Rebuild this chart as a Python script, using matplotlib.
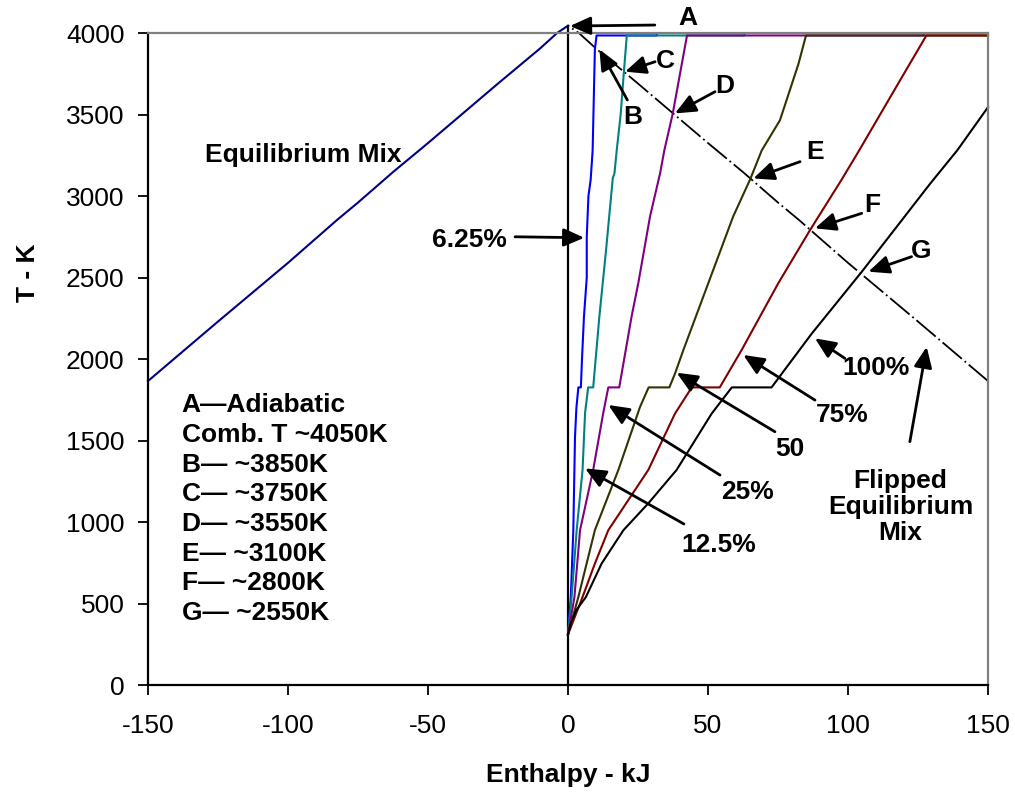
import matplotlib
matplotlib.use("Agg")
import matplotlib.pyplot as plt

plt.rcParams['font.family'] = ['Liberation Sans', 'DejaVu Sans']
plt.rcParams['axes.unicode_minus'] = False

# Gleichgewichtsgemisch (Enthalpie kJ, Temperatur K)
eq_h = [-150, -125, -100, -82.5, -75, -62.5, -50, -25, -10, -3.9, 0]
eq_T = [1865, 2230, 2590, 2853, 2960, 3147, 3325, 3690, 3905, 4000, 4045]

# adiabatische Linie bei h = 0
adiab_h = [0, 0]
adiab_T = [0, 4045]

# Kurven fuer verschiedene Anteile
h_625 = [0, 1.0, 1.9, 2.5, 3.0, 3.7, 4.6, 5.0, 5.7, 6.7, 6.7, 7.3, 8.1, 8.8, 9.6, 10.2, 31.7, 31.7]
T_625 = [310, 540, 950, 1520, 1700, 1826, 1826, 2000, 2260, 2500, 2750, 3000, 3100, 3280, 3900, 3985, 3985, 4000]

h_125 = [0, 1.3, 3.1, 5.2, 6.1, 7.2, 9.0, 11.2, 13.6, 16.0, 16.6, 17.4, 18.8, 20.0, 21.0, 63.0, 63.0]
T_125 = [310, 540, 950, 1320, 1670, 1826, 1826, 2260, 2670, 3110, 3140, 3280, 3500, 3770, 3985, 3985, 4000]

h_25 = [0, 2.3, 4.3, 9.0, 12.6, 14.4, 18.3, 22.7, 25.1, 29.3, 32.9, 34.4, 37.4, 42.5, 127, 127]
T_25 = [310, 540, 950, 1320, 1670, 1826, 1826, 2260, 2465, 2875, 3140, 3280, 3505, 3985, 3985, 4000]

h_50 = [0, 3.7, 9.6, 18.0, 25.7, 28.8, 36.2, 38.2, 41.2, 50.1, 59.0, 65.0, 69.2, 75.7, 82.3, 85.0, 150]
T_50 = [310, 540, 950, 1320, 1705, 1826, 1826, 1910, 2055, 2465, 2875, 3100, 3280, 3465, 3810, 3985, 3985]

h_75 = [0, 5.2, 9.6, 14.4, 28.7, 38.2, 44.2, 54.2, 62.0, 75.1, 86.4, 97.7, 104.0, 118.6, 128.0, 150]
T_75 = [310, 540, 745, 950, 1320, 1665, 1826, 1826, 2055, 2465, 2790, 3100, 3280, 3710, 3985, 3985]

h_100 = [0, 1.0, 3.0, 6.4, 12.0, 19.8, 28.7, 38.8, 51.3, 58.5, 72.7, 87.0, 104.9, 129.3, 139.0, 150]
T_100 = [310, 380, 460, 540, 745, 950, 1115, 1320, 1665, 1826, 1826, 2155, 2535, 3075, 3280, 3545]

kurven = [
    (h_625, T_625, '#0000ff'),
    (h_125, T_125, '#008080'),
    (h_25, T_25, '#800080'),
    (h_50, T_50, '#333300'),
    (h_75, T_75, '#800000'),
    (h_100, T_100, '#000000'),
]

fig = plt.figure(figsize=(10.15, 7.96), dpi=100)
ax = fig.add_axes([0.1458, 0.1394, 0.8276, 0.8191])

ax.plot(eq_h, eq_T, color='#000080', lw=1.5, clip_on=False)
# gespiegeltes Gleichgewicht
ax.plot([-h for h in eq_h], eq_T, color='black', lw=1.3,
        linestyle=(0, (14, 2, 1, 2)), clip_on=False)
ax.plot(adiab_h, adiab_T, color='black', lw=1.6, clip_on=False)

for h, T, c in kurven:
    ax.plot(h, T, color=c, lw=1.5, clip_on=False)

ax.set_xlim(-150, 150)
ax.set_ylim(0, 4000)
ax.set_xticks(range(-150, 151, 50))
ax.set_yticks(range(0, 4001, 500))

for s in ['left', 'bottom']:
    ax.spines[s].set_color('black')
    ax.spines[s].set_linewidth(1.6)
for s in ['top', 'right']:
    ax.spines[s].set_color('#808080')
    ax.spines[s].set_linewidth(1.6)

ax.tick_params(axis='both', direction='out', length=7, width=1.3, labelsize=19)
ax.tick_params(axis='x', pad=14)
ax.tick_params(axis='y', pad=10)

ax.set_xlabel('Enthalpy - kJ', fontsize=19, fontweight='bold', labelpad=18)
ax.set_ylabel('T - K', fontsize=19, fontweight='bold')
ax.yaxis.set_label_coords(-0.128, 0.633)

fs = 19
pfeil = dict(arrowstyle='-|>,head_length=0.5,head_width=0.22', color='black',
             lw=2, mutation_scale=25, shrinkA=0, shrinkB=0)

def pfeil_zeichnen(tail, head):
    ax.annotate('', xy=head, xytext=tail, arrowprops=pfeil, annotation_clip=False)

def label(x, y, s, **kw):
    ax.text(x, y, s, fontsize=fs, fontweight='bold', ha='center', va='center',
            clip_on=False, **kw)

# Buchstaben A-G
pfeil_zeichnen((31, 4049), (0.7, 4043))
label(42.9, 4092, 'A')
pfeil_zeichnen((21.2, 3589), (11.2, 3900))
label(23.2, 3485, 'B')
pfeil_zeichnen((31.1, 3824), (20.4, 3763))
label(34.6, 3828, 'C')
pfeil_zeichnen((52.5, 3640), (38.2, 3507))
label(56.1, 3675, 'D')
pfeil_zeichnen((82.9, 3211), (66.2, 3108))
label(88.2, 3270, 'E')
pfeil_zeichnen((104.9, 2894), (88.2, 2802))
label(108.6, 2945, 'F')
pfeil_zeichnen((122.7, 2628), (107.3, 2536))
label(126, 2663, 'G')

# Prozentangaben
pfeil_zeichnen((-18.9, 2750), (5.8, 2744))
label(-35.2, 2730, '6.25%')
pfeil_zeichnen((41.4, 988), (6.1, 1329))
label(53.8, 859, '12.5%')
pfeil_zeichnen((54.3, 1288), (14.4, 1718))
label(64.1, 1184, '25%')
pfeil_zeichnen((73.9, 1554), (38.8, 1916))
label(79.3, 1448, '50')
pfeil_zeichnen((88.2, 1748), (62.6, 2025))
label(98, 1656, '75%')
pfeil_zeichnen((98.9, 2004), (88.2, 2127))
label(110.2, 1948, '100%')
pfeil_zeichnen((122.1, 1493), (128.1, 2075))
label(118.8, 1092, 'Flipped\nEquilibrium\nMix', linespacing=1.1)

ax.text(-129.6, 3252, 'Equilibrium Mix', fontsize=fs, fontweight='bold',
        ha='left', va='center')
ax.text(-138, 1790, 'A\u2014Adiabatic\nComb. T ~4050K\nB\u2014 ~3850K\nC\u2014 ~3750K\n'
        'D\u2014 ~3550K\nE\u2014 ~3100K\nF\u2014 ~2800K\nG\u2014 ~2550K',
        fontsize=fs, fontweight='bold', ha='left', va='top', linespacing=1.3)

plt.savefig('out.png', dpi=100)
